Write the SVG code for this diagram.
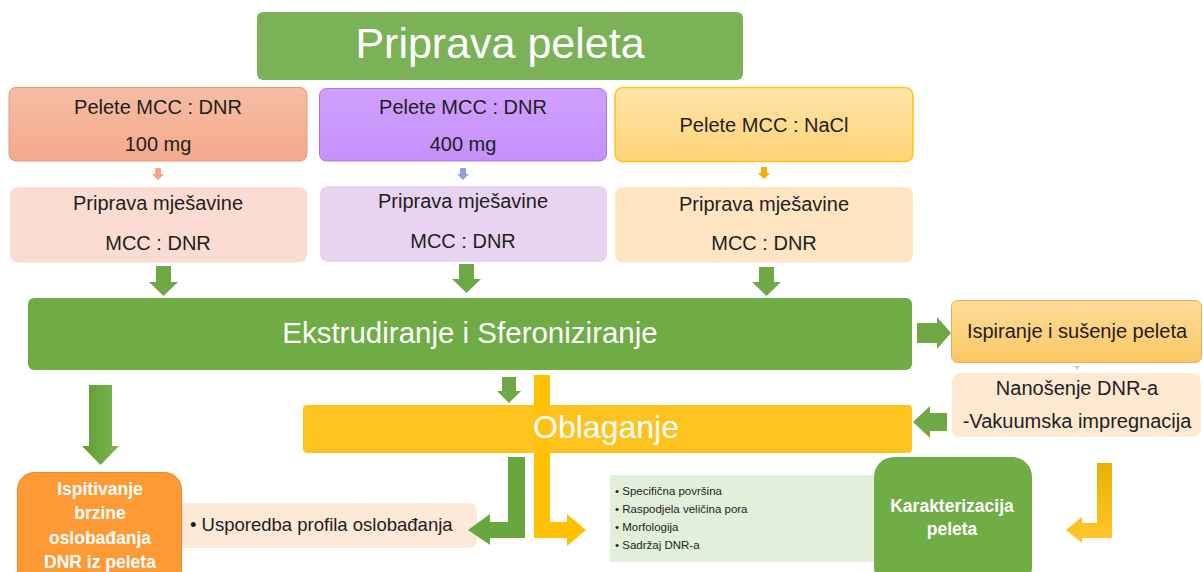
<svg xmlns="http://www.w3.org/2000/svg" width="1203" height="572" viewBox="0 0 1203 572">
<defs>
<linearGradient id="gA" x1="0" y1="0" x2="0" y2="1"><stop offset="0" stop-color="#F6BDA5"/><stop offset="1" stop-color="#F3A98B"/></linearGradient>
<linearGradient id="gB" x1="0" y1="0" x2="0" y2="1"><stop offset="0" stop-color="#D0A0FF"/><stop offset="1" stop-color="#C690FA"/></linearGradient>
<linearGradient id="gC" x1="0" y1="0" x2="0" y2="1"><stop offset="0" stop-color="#FFE5A8"/><stop offset="1" stop-color="#FFD378"/></linearGradient>
<linearGradient id="gI" x1="0" y1="0" x2="0" y2="1"><stop offset="0" stop-color="#FEDC98"/><stop offset="1" stop-color="#FBC765"/></linearGradient>
<linearGradient id="gG" x1="0" y1="0" x2="1" y2="0"><stop offset="0" stop-color="#5E9D33"/><stop offset="1" stop-color="#7DB653"/></linearGradient>
<linearGradient id="gY" x1="0" y1="0" x2="0" y2="1"><stop offset="0" stop-color="#E6B200"/><stop offset="1" stop-color="#FFC62E"/></linearGradient>
</defs>
<style>
text{font-family:"Liberation Sans",Arial,sans-serif}
.dk{fill:#1E1E1E;font-size:20px;text-anchor:middle}
.wt{fill:#FFFFFF;text-anchor:middle}
.wb{fill:#FFFFFF;text-anchor:middle;font-weight:bold;font-size:17.5px}
.sm{fill:#1E1E1E;font-size:11.5px}
.green{fill:#6FA945}
</style>

<g id="title">
<rect x="257" y="12" width="486" height="68" rx="6" fill="#7BB257"/>
<text class="wt" x="500" y="58" font-size="43">Priprava peleta</text>
</g>

<g id="pelete-dnr-100">
<rect x="9" y="87.5" width="298" height="73.5" rx="7" fill="url(#gA)" stroke="#E39A7E" stroke-width="1"/>
<text class="dk" x="158" y="114">Pelete MCC : DNR</text>
<text class="dk" x="158" y="151">100 mg</text>
</g>
<g id="pelete-dnr-400">
<rect x="319.5" y="88.5" width="287" height="72.5" rx="7" fill="url(#gB)" stroke="#A77BD6" stroke-width="1"/>
<text class="dk" x="463" y="114">Pelete MCC : DNR</text>
<text class="dk" x="463" y="151">400 mg</text>
</g>
<g id="pelete-nacl">
<rect x="615" y="87.5" width="298" height="74" rx="8" fill="url(#gC)" stroke="#FFC31A" stroke-width="1.5"/>
<text class="dk" x="764" y="132">Pelete MCC : NaCl</text>
</g>

<g id="mjesavina-1">
<rect x="10" y="187" width="297" height="75.5" rx="8" fill="#FADCD3"/>
<text class="dk" x="158" y="210">Priprava mješavine</text>
<text class="dk" x="158" y="250">MCC : DNR</text>
</g>
<g id="mjesavina-2">
<rect x="320" y="186" width="287" height="76" rx="8" fill="#E8D4F1"/>
<text class="dk" x="463" y="208">Priprava mješavine</text>
<text class="dk" x="463" y="248">MCC : DNR</text>
</g>
<g id="mjesavina-3">
<rect x="615" y="187" width="298" height="75.5" rx="8" fill="#FFE5C2"/>
<text class="dk" x="764" y="211">Priprava mješavine</text>
<text class="dk" x="764" y="250">MCC : DNR</text>
</g>

<g id="ekstrudiranje">
<rect x="28" y="298" width="884" height="72" rx="6" fill="#6FAC46"/>
<text class="wt" x="470" y="343" font-size="29.5">Ekstrudiranje i Sferoniziranje</text>
</g>

<g id="ispiranje">
<rect x="951.5" y="300.5" width="250" height="62" rx="6" fill="url(#gI)" stroke="#E3AE5E" stroke-width="1"/>
<text class="dk" x="1077" y="338" font-size="21.5">Ispiranje i sušenje peleta</text>
</g>

<g id="nanosenje">
<rect x="952" y="373" width="249" height="64" rx="8" fill="#FDE8D2"/>
<text class="dk" x="1077" y="395" font-size="18">Nanošenje DNR-a</text>
<text class="dk" x="1077" y="428" font-size="18">-Vakuumska impregnacija</text>
</g>

<g id="usporedba">
<rect x="170" y="503" width="307" height="45" rx="8" fill="#FDE9D8"/>
<text x="190" y="531" font-size="18.5" fill="#1E1E1E">• Usporedba profila oslobađanja</text>
</g>

<g id="ispitivanje">
<rect x="17.5" y="472.5" width="164" height="115" rx="17" fill="#FE9A35" stroke="#E8882A" stroke-width="1"/>
<text class="wb" x="100" y="495">Ispitivanje</text>
<text class="wb" x="100" y="519">brzine</text>
<text class="wb" x="100" y="544">oslobađanja</text>
<text class="wb" x="100" y="568">DNR iz peleta</text>
</g>

<g id="karakterizacija-lista">
<rect x="610" y="475" width="280" height="87" fill="#E2EFDA"/>
<text class="sm" x="615" y="495">• Specifična površina</text>
<text class="sm" x="615" y="513">• Raspodjela veličina pora</text>
<text class="sm" x="615" y="531">• Morfologija</text>
<text class="sm" x="615" y="549">• Sadržaj DNR-a</text>
</g>

<g id="karakterizacija">
<rect x="874" y="457" width="158" height="130" rx="20" fill="#70AD47"/>
<text class="wb" x="952" y="512" font-size="18">Karakterizacija</text>
<text class="wb" x="952" y="535" font-size="18">peleta</text>
</g>

<g id="connectors">
<polygon points="155,168 161,168 161,174 164,174 158,180 152,174 155,174" fill="#F4A68C"/>
<polygon points="460,168 466,168 466,174 469,174 463,180 457,174 460,174" fill="#8FA3D9"/>
<polygon points="761,167 767,167 767,173 770,173 764,179 758,173 761,173" fill="#EFB000"/>
<polygon points="156,266 171,266 171,282 178,282 163.5,296 149,282 156,282" class="green"/>
<polygon points="459,264 474,264 474,279 481,279 466.5,293 452,279 459,279" class="green"/>
<polygon points="759,267 774,267 774,282 781,282 766.5,296 752,282 759,282" class="green"/>
<polygon points="917,323 937,323 937,317 951,333 937,349 937,343 917,343" class="green"/>
<polygon points="1074,366 1080,366 1077,370" fill="#F8C98A"/>
<polygon points="502,377 516,377 516,391 521,391 509,403 497,391 502,391" class="green"/>
<polygon points="947,413 930,413 930,406 913,422 930,438 930,431 947,431" class="green"/>
<polygon points="89,385 112,385 112,446 119,446 100.5,465 82,446 89,446" fill="url(#gG)"/>
<polygon points="508,457 525,457 525,538 490,538 490,545 468,530 490,514 490,522 508,522" fill="#68A63F"/>
<polygon points="534,375 550,375 550,522 567,522 567,514 586,530 567,546 567,538 534,538" fill="#FFC000"/>
<polygon points="1097,463 1112,463 1112,538 1082,538 1082,543 1066,530 1082,517 1082,523 1097,523" fill="url(#gY)"/>
</g>

<g id="oblaganje">
<rect x="303" y="405" width="609" height="48" rx="4" fill="#FFC31F"/>
<rect x="534" y="405" width="16" height="48" fill="#FFBF00" opacity="0.6"/>
<text class="wt" x="606" y="438" font-size="32">Oblaganje</text>
</g>
</svg>
